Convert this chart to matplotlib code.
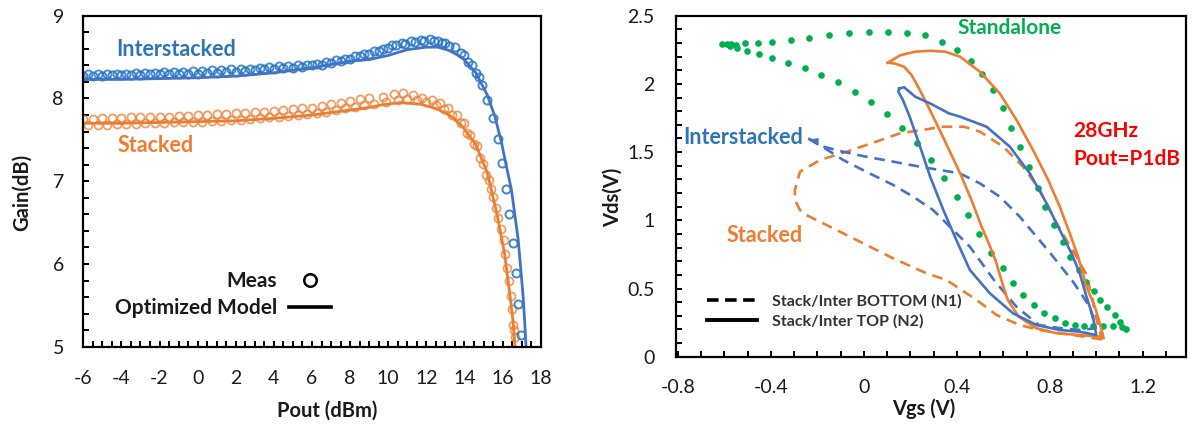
import numpy as np
import matplotlib
matplotlib.use('Agg')
import matplotlib.pyplot as plt
from matplotlib.lines import Line2D
from matplotlib.ticker import MultipleLocator

plt.rcParams['font.family'] = ['Lato', 'DejaVu Sans']
plt.rcParams['axes.unicode_minus'] = False

# ---------------- Gain vs Pout ----------------
# measured, two sweeps per amplifier
pout_blue_a = [-6.0, -5.5, -5.0, -4.5, -4.0, -3.5, -3.0, -2.5, -2.0, -1.5, -1.0, -0.5, 0.0, 0.5, 1.0, 1.5,
               2.0, 2.5, 3.0, 3.5, 4.0, 4.5, 5.0, 5.5, 6.0, 6.5, 7.0, 7.5, 8.0, 8.5, 9.0, 9.5,
               10.0, 10.4, 10.9, 11.4, 11.9, 12.4, 12.8, 13.2, 13.8, 14.2, 14.6, 14.9, 15.2, 15.5,
               15.75, 15.95, 16.2, 16.35, 16.53, 16.7, 16.82, 16.95]
gain_blue_a = [8.27, 8.27, 8.27, 8.28, 8.28, 8.28, 8.28, 8.29, 8.29, 8.29, 8.29, 8.30, 8.30, 8.31, 8.31, 8.32,
               8.32, 8.33, 8.34, 8.35, 8.36, 8.37, 8.37, 8.38, 8.40, 8.41, 8.43, 8.45, 8.48, 8.51, 8.54, 8.57,
               8.61, 8.64, 8.66, 8.68, 8.70, 8.69, 8.67, 8.63, 8.55, 8.44, 8.31, 8.16, 7.98, 7.76,
               7.51, 7.22, 6.91, 6.60, 6.25, 5.89, 5.52, 5.14]
pout_blue_b = [-5.75, -5.25, -4.75, -4.25, -3.75, -3.25, -2.75, -2.25, -1.75, -1.25, -0.75, -0.25, 0.25, 0.75,
               1.25, 1.75, 2.25, 2.75, 3.25, 3.75, 4.25, 4.75, 5.25, 5.75, 6.25, 6.75, 7.25, 7.75, 8.25, 8.75,
               9.25, 9.75, 10.2, 10.7, 11.2, 11.7, 12.2, 12.6, 13.0, 13.5, 14.0, 14.4, 14.75]
gain_blue_b = [8.29, 8.29, 8.30, 8.30, 8.30, 8.31, 8.31, 8.31, 8.32, 8.32, 8.32, 8.33, 8.33, 8.34,
               8.34, 8.35, 8.35, 8.36, 8.37, 8.38, 8.39, 8.39, 8.40, 8.41, 8.42, 8.44, 8.46, 8.48, 8.51, 8.54,
               8.57, 8.60, 8.64, 8.67, 8.69, 8.71, 8.72, 8.70, 8.67, 8.62, 8.52, 8.40, 8.26]

pout_orange_a = [-6.0, -5.5, -5.0, -4.5, -4.0, -3.5, -3.0, -2.5, -2.0, -1.5, -1.0, -0.5, 0.0, 0.5, 1.0, 1.5,
                 2.0, 2.5, 3.0, 3.5, 4.0, 4.5, 5.0, 5.5, 6.0, 6.5, 7.0, 7.5, 8.0, 8.5, 9.0,
                 9.7, 10.3, 10.8, 11.3, 11.75, 12.3, 12.7, 13.15, 13.6, 13.95, 14.3, 14.64, 14.95, 15.3, 15.5,
                 15.77, 16.07, 16.25, 16.42, 16.56, 16.65]
gain_orange_a = [7.75, 7.75, 7.76, 7.76, 7.76, 7.77, 7.77, 7.77, 7.78, 7.78, 7.79, 7.79, 7.80, 7.80, 7.81, 7.81,
                 7.82, 7.83, 7.84, 7.84, 7.85, 7.86, 7.87, 7.88, 7.89, 7.91, 7.93, 7.95, 7.97, 7.99, 8.00,
                 8.02, 8.05, 8.06, 8.04, 8.01, 7.98, 7.94, 7.88, 7.80, 7.70, 7.56, 7.42, 7.21, 7.01, 6.81,
                 6.55, 6.29, 5.95, 5.61, 5.26, 5.12]
pout_orange_b = [-5.75, -5.25, -4.75, -4.25, -3.75, -3.25, -2.75, -2.25, -1.75, -1.25, -0.75, -0.25, 0.25, 0.75,
                 1.25, 1.75, 2.25, 2.75, 3.25, 3.75, 4.25, 4.75, 5.25, 5.75, 6.25, 6.75, 7.25, 7.75, 8.25, 8.75,
                 9.25, 9.9, 10.5, 11.0, 11.5, 12.0, 12.5, 12.9, 13.35, 13.8, 14.15, 14.5, 14.8, 15.15, 15.4,
                 15.65, 15.9, 16.15, 16.35, 16.5, 16.62]
gain_orange_b = [7.68, 7.68, 7.68, 7.69, 7.69, 7.69, 7.70, 7.70, 7.70, 7.71, 7.71, 7.72, 7.72, 7.73,
                 7.73, 7.74, 7.74, 7.75, 7.76, 7.77, 7.78, 7.79, 7.80, 7.81, 7.82, 7.84, 7.86, 7.88, 7.90, 7.92,
                 7.93, 7.96, 7.98, 7.99, 7.98, 7.96, 7.92, 7.87, 7.80, 7.70, 7.58, 7.45, 7.28, 7.08, 6.90,
                 6.68, 6.42, 6.12, 5.80, 5.45, 5.20]

# optimized model
pout_blue_model = [-6, -4, -2, 0, 2, 4, 6, 8, 9, 10, 11, 12, 12.6, 13.2, 13.9, 14.6, 15.2, 15.6, 15.95,
                   16.2, 16.47, 16.65, 16.82, 16.95, 17.08, 17.16, 17.23]
gain_blue_model = [8.23, 8.23, 8.24, 8.25, 8.27, 8.31, 8.37, 8.45, 8.47, 8.52, 8.59, 8.62, 8.62, 8.58, 8.49,
                   8.31, 8.04, 7.78, 7.46, 7.18, 6.89, 6.58, 6.29, 5.95, 5.60, 5.30, 5.0]
pout_orange_model = [-6, -4, -2, 0, 2, 4, 6, 8, 9, 9.6, 10.6, 11.7, 12.5, 13.2, 13.9, 14.6, 15.2, 15.7,
                     16.1, 16.4, 16.55, 16.65]
gain_orange_model = [7.70, 7.70, 7.71, 7.72, 7.73, 7.76, 7.80, 7.86, 7.89, 7.92, 7.95, 7.93, 7.88, 7.80,
                     7.66, 7.44, 7.10, 6.61, 6.13, 5.60, 5.30, 5.0]

# ---------------- Load lines at 28GHz, Pout = P1dB ----------------
vgs_standalone = [-0.612, -0.591, -0.570, -0.550, -0.512, -0.455, -0.394, -0.315, -0.235, -0.150, -0.062, 0.022,
                  0.103, 0.185, 0.265, 0.335, 0.400, 0.460, 0.510, 0.555, 0.600, 0.635, 0.672, 0.712, 0.748,
                  0.778, 0.817, 0.855, 0.889, 0.926, 0.958, 0.989, 1.018, 1.046, 1.080, 1.101, 1.127,
                  1.110, 1.074, 1.031, 0.988, 0.946, 0.908, 0.865, 0.822, 0.774, 0.731, 0.685, 0.640, 0.597,
                  0.549, 0.496, 0.449, 0.400, 0.345, 0.290, 0.230, 0.166, 0.100, 0.029, -0.040, -0.110,
                  -0.185, -0.255, -0.325, -0.394, -0.450, -0.502, -0.547, -0.578]
vds_standalone = [2.293, 2.293, 2.290, 2.285, 2.300, 2.300, 2.310, 2.320, 2.335, 2.360, 2.370, 2.380,
                  2.380, 2.375, 2.360, 2.310, 2.250, 2.170, 2.070, 1.955, 1.825, 1.680, 1.535, 1.390, 1.234,
                  1.100, 0.966, 0.843, 0.733, 0.636, 0.550, 0.484, 0.416, 0.362, 0.306, 0.257, 0.200,
                  0.215, 0.225, 0.225, 0.228, 0.225, 0.232, 0.249, 0.281, 0.323, 0.379, 0.452, 0.543, 0.648,
                  0.762, 0.900, 1.039, 1.168, 1.307, 1.442, 1.569, 1.679, 1.779, 1.870, 1.943, 2.016,
                  2.065, 2.114, 2.155, 2.190, 2.220, 2.240, 2.260, 2.277]

vgs_stk_top = [0.103, 0.156, 0.221, 0.285, 0.350, 0.413, 0.499, 0.585, 0.657, 0.728, 0.793, 0.843, 0.886,
               0.922, 0.958, 0.994, 1.015, 1.032, 1.015, 0.929, 0.829, 0.740, 0.665, 0.618, 0.592, 0.568,
               0.540, 0.505, 0.465, 0.418, 0.374, 0.326, 0.277, 0.237, 0.205, 0.173, 0.132, 0.103]
vds_stk_top = [2.155, 2.210, 2.236, 2.243, 2.236, 2.200, 2.090, 1.930, 1.735, 1.515, 1.296, 1.100, 0.905,
               0.733, 0.513, 0.367, 0.245, 0.135, 0.147, 0.159, 0.172, 0.210, 0.295, 0.420, 0.560, 0.700,
               0.820, 0.960, 1.140, 1.330, 1.490, 1.662, 1.833, 1.967, 2.065, 2.126, 2.150, 2.155]

vgs_int_top = [0.152, 0.173, 0.221, 0.285, 0.366, 0.413, 0.528, 0.628, 0.714, 0.786, 0.843, 0.893, 0.929,
               0.958, 0.986, 1.000, 0.929, 0.843, 0.743, 0.642, 0.542, 0.456, 0.398, 0.342, 0.285,
               0.237, 0.197, 0.168, 0.148, 0.152]
vds_int_top = [1.967, 1.975, 1.906, 1.857, 1.784, 1.760, 1.686, 1.540, 1.344, 1.125, 0.929, 0.760, 0.611,
               0.440, 0.293, 0.159, 0.183, 0.196, 0.232, 0.318, 0.465, 0.636, 0.855, 1.075, 1.320,
               1.564, 1.760, 1.882, 1.943, 1.967]

vgs_stk_bot = [1.024, 0.947, 0.850, 0.753, 0.671, 0.571, 0.485, 0.356, 0.270, 0.126, -0.017, -0.146, -0.248,
               -0.275, -0.297, -0.297, -0.275, -0.189, -0.074, 0.040, 0.156, 0.270, 0.334, 0.431, 0.499,
               0.600, 0.685, 0.757, 0.814, 0.872, 0.915, 0.955, 0.979, 0.995, 1.011, 1.024]
vds_stk_bot = [0.127, 0.147, 0.171, 0.196, 0.232, 0.306, 0.416, 0.562, 0.611, 0.721, 0.843, 0.953, 1.039,
               1.075, 1.149, 1.222, 1.356, 1.442, 1.503, 1.569, 1.638, 1.667, 1.686, 1.686, 1.650,
               1.540, 1.393, 1.222, 1.026, 0.855, 0.733, 0.611, 0.464, 0.318, 0.208, 0.127]

vgs_int_bot = [-0.240, -0.175, -0.090, 0.010, 0.126, 0.241, 0.327, 0.413, 0.499, 0.585, 0.671, 0.743, 0.803,
               0.900, 0.972, 0.998, 0.931, 0.850, 0.753, 0.656, 0.560, 0.456, 0.413, 0.298, 0.212, 0.126,
               0.010, -0.089, -0.170, -0.240]
vds_int_bot = [1.601, 1.540, 1.503, 1.466, 1.430, 1.393, 1.369, 1.344, 1.271, 1.173, 1.026, 0.880, 0.758,
               0.550, 0.367, 0.208, 0.196, 0.208, 0.232, 0.367, 0.562, 0.806, 0.880, 1.075, 1.173, 1.259,
               1.356, 1.442, 1.530, 1.601]

# colours
c_blue_txt = '#2E75B6'
c_blue_pt = '#1F72C4'
c_blue_ln = '#4472C4'
c_orange = '#ED7D31'
c_green = '#00B050'
c_red = '#FF0000'
c_ink = '#1A1A1A'

W, H = 1195, 428
fig = plt.figure(figsize=(W / 100, H / 100), dpi=100)


def fx(x, y):
    # pixel position (from top-left) -> figure fraction
    return x / W, 1 - y / H


def style_axes(ax):
    for s in ax.spines.values():
        s.set_linewidth(1.6)
        s.set_color('black')
    ax.tick_params(which='both', direction='in', length=4, width=1.4, color='black',
                   labelsize=14, labelcolor=c_ink)
    ax.tick_params(axis='x', which='both', pad=17, top=False)
    ax.tick_params(axis='y', which='both', pad=14, right=False)


# ---- left: gain compression ----
ax1 = fig.add_axes([83.3 / W, 1 - 346.7 / H, 457.4 / W, 331 / H])
ax1.plot(pout_orange_b, gain_orange_b, 'o', ms=5.8, mfc='none', mec=c_orange, mew=1.3, alpha=0.75)
ax1.plot(pout_orange_a, gain_orange_a, 'o', ms=5.8, mfc='none', mec=c_orange, mew=1.3, alpha=0.75)
ax1.plot(pout_blue_b, gain_blue_b, 'o', ms=5.8, mfc='none', mec=c_blue_pt, mew=1.4, alpha=0.8)
ax1.plot(pout_blue_a, gain_blue_a, 'o', ms=5.8, mfc='none', mec=c_blue_pt, mew=1.4, alpha=0.85)
ax1.plot(pout_orange_model, gain_orange_model, '-', color=c_orange, lw=2.0)
ax1.plot(pout_blue_model, gain_blue_model, '-', color=c_blue_ln, lw=2.0)

ax1.set_xlim(-6, 18)
ax1.set_ylim(5, 9)
ax1.xaxis.set_major_locator(MultipleLocator(2))
ax1.xaxis.set_minor_locator(MultipleLocator(0.5))
ax1.yaxis.set_major_locator(MultipleLocator(1))
ax1.yaxis.set_minor_locator(MultipleLocator(0.2))
style_axes(ax1)

fig.text(*fx(22, 192), 'Gain(dB)', rotation=90, ha='center', va='center', fontsize=14.5,
         fontweight='bold', color=c_ink)
fig.text(*fx(327, 411), 'Pout (dBm)', ha='center', va='center', fontsize=14.5,
         fontweight='bold', color=c_ink)
fig.text(*fx(116, 49), 'Interstacked', ha='left', va='center', fontsize=15.5,
         fontweight='bold', color=c_blue_txt)
fig.text(*fx(118, 145), 'Stacked', ha='left', va='center', fontsize=15.5,
         fontweight='bold', color=c_orange)

leg1_handles = [Line2D([], [], ls='none', marker='o', ms=9, mfc='none', mec='black', mew=1.8),
                Line2D([], [], color='black', lw=2.6)]
leg1 = ax1.legend(leg1_handles, ['Meas', 'Optimized Model'], markerfirst=False, frameon=False,
                  loc='upper right', bbox_to_anchor=fx(331, 271), bbox_transform=fig.transFigure,
                  borderpad=0, borderaxespad=0, handlelength=2.0, handletextpad=0.6,
                  labelspacing=0.35, prop={'size': 15, 'weight': 'bold'})
for t in leg1.get_texts():
    t.set_color(c_ink)

# ---- right: load lines ----
ax2 = fig.add_axes([675.7 / W, 1 - 356.7 / H, 510 / W, 341 / H])
dash = (0, (4, 2.6))
ax2.plot(vgs_stk_bot, vds_stk_bot, color=c_orange, lw=1.9, ls=dash)
ax2.plot(vgs_int_bot, vds_int_bot, color=c_blue_ln, lw=1.9, ls=dash)
ax2.plot(vgs_standalone, vds_standalone, 'o', color=c_green, ms=4.8, mec='none')
ax2.plot(vgs_stk_top, vds_stk_top, color=c_orange, lw=1.9)
ax2.plot(vgs_int_top, vds_int_top, color=c_blue_ln, lw=1.9)
ax2.annotate('', xy=(vgs_int_bot[0], vds_int_bot[0]), xytext=(9, -3), textcoords='offset points',
             arrowprops=dict(arrowstyle='-|>', color=c_blue_ln, lw=1.2, mutation_scale=9))

ax2.set_xlim(-0.81, 1.385)
ax2.set_ylim(0, 2.5)
ax2.xaxis.set_major_locator(MultipleLocator(0.4))
ax2.xaxis.set_minor_locator(MultipleLocator(0.1))
ax2.yaxis.set_major_locator(MultipleLocator(0.5))
ax2.yaxis.set_minor_locator(MultipleLocator(0.1))
ax2.xaxis.set_major_formatter(lambda v, p: f'{v:g}' if abs(v) > 1e-9 else '0')
ax2.yaxis.set_major_formatter(lambda v, p: f'{v:g}' if abs(v) > 1e-9 else '0')
style_axes(ax2)
ax2.tick_params(axis='x', which='both', pad=16)
ax2.tick_params(axis='y', which='both', pad=15)

fig.text(*fx(613, 197), 'Vds(V)', rotation=90, ha='center', va='center', fontsize=14.5,
         fontweight='bold', color=c_ink)
fig.text(*fx(924, 409), 'Vgs (V)', ha='center', va='center', fontsize=14.5,
         fontweight='bold', color=c_ink)
fig.text(*fx(957, 28), 'Standalone', ha='left', va='center', fontsize=15,
         fontweight='bold', color=c_green)
fig.text(*fx(683, 138), 'Interstacked', ha='left', va='center', fontsize=15.5,
         fontweight='bold', color=c_blue_txt)
fig.text(*fx(727, 235), 'Stacked', ha='left', va='center', fontsize=15.5,
         fontweight='bold', color=c_orange)
fig.text(*fx(1073, 131), '28GHz', ha='left', va='center', fontsize=15,
         fontweight='bold', color=c_red)
fig.text(*fx(1073, 159), 'Pout=P1dB', ha='left', va='center', fontsize=15,
         fontweight='bold', color=c_red)

leg2_handles = [Line2D([], [], color='black', lw=2.6, ls=(0, (3.2, 1.8))),
                Line2D([], [], color='black', lw=2.8)]
leg2 = ax2.legend(leg2_handles, ['Stack/Inter BOTTOM (N1)', 'Stack/Inter TOP (N2)'], frameon=False,
                  loc='upper left', bbox_to_anchor=fx(707, 294), bbox_transform=fig.transFigure,
                  borderpad=0, borderaxespad=0, handlelength=3.1, handletextpad=1.0,
                  labelspacing=0.35, prop={'size': 11.5, 'weight': 'bold'})
for t in leg2.get_texts():
    t.set_color('#333333')

fig.savefig('out.png', dpi=100)
